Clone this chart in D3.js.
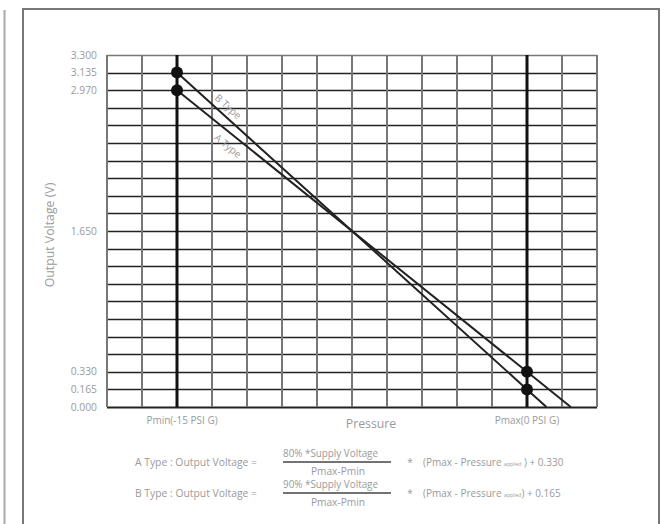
<!DOCTYPE html>
<html><head><meta charset="utf-8">
<script src="https://cdn.jsdelivr.net/npm/d3@7"></script>
<style>
html,body{margin:0;padding:0;background:#fff;}
svg{display:block;}
text{font-family:"Open Sans","Noto Sans",sans-serif;font-weight:400;fill:#9a9a9a;}
</style></head>
<body>
<script>
// ---- data ----
const yTickValues = [0.000, 0.165, 0.330, 1.650, 2.970, 3.135, 3.300];
const yTickLabels = ["0.000", "0.165", "0.330", "1.650", "2.970", "3.135", "3.300"];
const yGridStep = 0.165;          // one grid row
const pressureDomain = [-18, 3];  // PSI G across the grid
const xGridStep = 1.5;            // one grid column
const pMin = -15, pMax = 0;
const xLabels = ["Pmin(-15 PSI G)", "Pmax(0 PSI G)"];
const aTypeLine = [{p: -15, v: 2.970}, {p: 0, v: 0.330}, {p: 1.875, v: 0.000}];
const bTypeLine = [{p: -15, v: 3.135}, {p: 0, v: 0.165}, {p: 0.833, v: 0.000}];
const aTypeDots = [{p: -15, v: 2.970}, {p: 0, v: 0.330}];
const bTypeDots = [{p: -15, v: 3.135}, {p: 0, v: 0.165}];
const seriesNames = ["A Type", "B Type"];
const formulaLines = [
  {name: "A Type : Output Voltage =", num: "80% *Supply Voltage", den: "Pmax-Pmin", tail: " ) + 0.330"},
  {name: "B Type : Output Voltage =", num: "90% *Supply Voltage", den: "Pmax-Pmin", tail: ") + 0.165"}
];

const W = 668, H = 524;
const svg = d3.select("body").append("svg").attr("width", W).attr("height", H);

// outer frames
svg.append("line").attr("x1", 4.5).attr("x2", 4.5).attr("y1", 10).attr("y2", H)
  .attr("stroke", "#aaa").attr("stroke-width", 2);
svg.append("path").attr("d", `M23,${H} L23,9 L659,9 L659,${H}`)
  .attr("fill", "none").attr("stroke", "#777").attr("stroke-width", 2);

const plot = {left: 107, right: 597, top: 55, bottom: 407};
const x = d3.scaleLinear().domain(pressureDomain).range([plot.left, plot.right]);
const y = d3.scaleLinear().domain([0, 3.3]).range([plot.bottom, plot.top]);

const g = svg.append("g");

// horizontal grid
const yGrid = d3.range(0, 3.3 + 1e-9, yGridStep);
g.selectAll(".hg").data(yGrid).join("line")
  .attr("x1", plot.left).attr("x2", plot.right)
  .attr("y1", d => Math.round(y(d)) + 0.5).attr("y2", d => Math.round(y(d)) + 0.5)
  .attr("stroke", (d, i) => i === yGrid.length - 1 ? "#777" : "#222")
  .attr("stroke-width", (d, i) => i === 0 ? 2 : 1.5);

// vertical grid
const xGrid = d3.range(pressureDomain[0], pressureDomain[1] + 1e-9, xGridStep);
g.selectAll(".vg").data(xGrid).join("line")
  .attr("x1", d => x(d)).attr("x2", d => x(d))
  .attr("y1", plot.top).attr("y2", plot.bottom)
  .attr("stroke", "#777").attr("stroke-width", 2);

// thick Pmin/Pmax lines
g.selectAll(".pl").data([pMin, pMax]).join("line")
  .attr("x1", d => x(d)).attr("x2", d => x(d))
  .attr("y1", plot.top).attr("y2", plot.bottom)
  .attr("stroke", "#111").attr("stroke-width", 3);

// series lines
const line = d3.line().x(d => x(d.p)).y(d => y(d.v));
[aTypeLine, bTypeLine].forEach(s => {
  g.append("path").attr("d", line(s)).attr("fill", "none")
    .attr("stroke", "#222").attr("stroke-width", 2);
});
[aTypeDots, bTypeDots].forEach(s => {
  g.selectAll(null).data(s).join("circle")
    .attr("cx", d => x(d.p)).attr("cy", d => y(d.v)).attr("r", 6).attr("fill", "#111");
});

// series labels along the lines
function seriesLabel(pts, name, at, offset) {
  const a = pts[0], b = pts[1];
  const x0 = x(a.p), y0 = y(a.v), x1 = x(b.p), y1 = y(b.v);
  const ang = Math.atan2(y1 - y0, x1 - x0);
  const t = (at - a.p) / (b.p - a.p);
  const px = x0 + t * (x1 - x0), py = y0 + t * (y1 - y0);
  const nx = -Math.sin(ang), ny = Math.cos(ang);
  svg.append("text")
    .attr("transform", `translate(${px + nx * offset},${py + ny * offset}) rotate(${ang * 180 / Math.PI})`)
    .attr("text-anchor", "middle").attr("dominant-baseline", "central")
    .attr("font-size", 10).text(name);
}
seriesLabel(bTypeLine, seriesNames[1], -13.07, -9.5);
seriesLabel(aTypeLine, seriesNames[0], -12.51, 11);

// y tick labels
svg.selectAll(".yt").data(yTickValues).join("text")
  .attr("x", 97).attr("y", d => y(d)).attr("dy", "0.35em")
  .attr("text-anchor", "end").attr("font-size", 10.3)
  .text((d, i) => yTickLabels[i]);

// axis titles
svg.append("text").attr("transform", `translate(54,${(plot.top + plot.bottom) / 2 + 4}) rotate(-90)`)
  .attr("text-anchor", "middle").attr("font-size", 12.3).text("Output Voltage (V)");
svg.append("text").attr("x", 371).attr("y", 428).attr("text-anchor", "middle")
  .attr("font-size", 12.3).text("Pressure");
svg.selectAll(".xl").data([pMin, pMax]).join("text")
  .attr("x", (d, i) => x(d) + (i === 0 ? 5 : 0)).attr("y", 423.5)
  .attr("text-anchor", "middle").attr("font-size", 10)
  .text((d, i) => xLabels[i]);

// formulas
formulaLines.forEach((f, i) => {
  const by = 462 + i * 31;
  svg.append("text").attr("x", 135).attr("y", by + 3.5).attr("font-size", 10.2)
    .attr("textLength", 122).attr("lengthAdjust", "spacingAndGlyphs").text(f.name);
  svg.append("text").attr("x", 283).attr("y", by - 5).attr("font-size", 10.2)
    .attr("textLength", 95).attr("lengthAdjust", "spacingAndGlyphs").text(f.num);
  svg.append("line").attr("x1", 283).attr("x2", 391).attr("y1", by).attr("y2", by)
    .attr("stroke", "#444").attr("stroke-width", 1.3);
  svg.append("text").attr("x", 338).attr("y", by + 13).attr("text-anchor", "middle")
    .attr("font-size", 10.2).text(f.den);
  svg.append("text").attr("x", 410).attr("y", by + 4).attr("text-anchor", "middle")
    .attr("font-size", 10).text("*");
  const t = svg.append("text").attr("x", 423).attr("y", by + 3.5).attr("font-size", 10);
  t.append("tspan").text("(Pmax - Pressure ");
  t.append("tspan").attr("font-size", 5).text("applied");
  t.append("tspan").text(f.tail);
});
</script>
</body></html>
